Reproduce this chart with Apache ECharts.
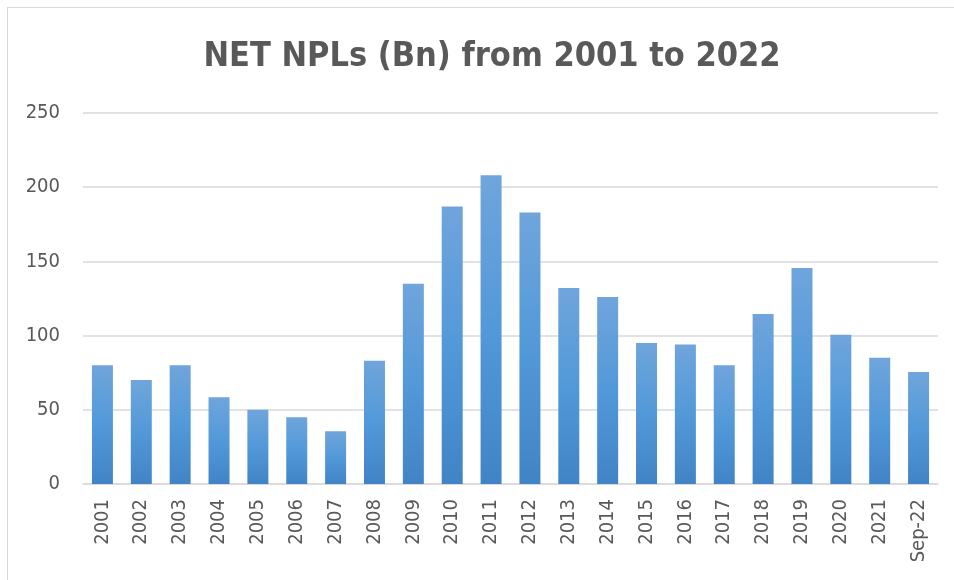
<!DOCTYPE html>
<html>
<head>
<meta charset="utf-8">
<script src="https://cdn.jsdelivr.net/npm/echarts@6/dist/echarts.min.js"></script>
<style>
  html, body { margin: 0; padding: 0; background: #fff; }
  #chart { width: 954px; height: 580px; }
  .frame { position: absolute; left: 7px; top: 7px; width: 960px; height: 580px; border: 1.5px solid #d9d9d9; pointer-events: none; }
</style>
</head>
<body>
<div id="chart"></div>
<div class="frame"></div>
<script>
// categories and values
const years = ['2001', '2002', '2003', '2004', '2005', '2006', '2007', '2008', '2009', '2010', '2011',
    '2012', '2013', '2014', '2015', '2016', '2017', '2018', '2019', '2020', '2021', 'Sep-22'];
const netNpls = [80, 70, 80, 58.5, 50, 45, 35.5, 83, 135, 187, 208,
    183, 132, 126, 95, 94, 80, 114.5, 145.5, 100.5, 85, 75.5];
const yTicks = [0, 50, 100, 150, 200, 250];

const chart = echarts.init(document.getElementById('chart'));
const textColor = '#595959';
const font = '"DejaVu Sans Condensed", sans-serif';

chart.setOption({
    backgroundColor: '#fff',
    title: {
        text: 'NET NPLs (Bn) from 2001 to 2022',
        left: 487,
        textAlign: 'center',
        top: 35,
        textStyle: { fontSize: 34, fontWeight: 'bold', color: textColor, fontFamily: font }
    },
    grid: { left: 83, right: 16, top: 113, bottom: 96 },
    xAxis: {
        type: 'category',
        data: years,
        axisTick: { show: false },
        axisLine: { lineStyle: { color: '#d9d9d9', width: 1.5 } },
        axisLabel: {
            rotate: 90, interval: 0, margin: 15,
            fontSize: 20, color: textColor, fontFamily: font
        }
    },
    yAxis: {
        type: 'value',
        min: yTicks[0],
        max: yTicks[yTicks.length - 1],
        interval: 50,
        axisLine: { show: false },
        axisTick: { show: false },
        splitLine: { lineStyle: { color: '#d9d9d9', width: 1.5 } },
        axisLabel: { fontSize: 20, color: textColor, margin: 23, fontFamily: font }
    },
    series: [{
        name: 'NET NPLs',
        type: 'bar',
        data: netNpls,
        barCategoryGap: '46%',
        itemStyle: {
            color: new echarts.graphic.LinearGradient(0, 0, 0, 1, [
                { offset: 0, color: '#6fa5db' },
                { offset: 0.5, color: '#5299d9' },
                { offset: 1, color: '#4184c6' }
            ]),
            shadowColor: 'rgba(0,0,0,0.35)',
            shadowBlur: 5,
            shadowOffsetX: 1,
            shadowOffsetY: 1
        }
    }]
});
</script>
</body>
</html>
